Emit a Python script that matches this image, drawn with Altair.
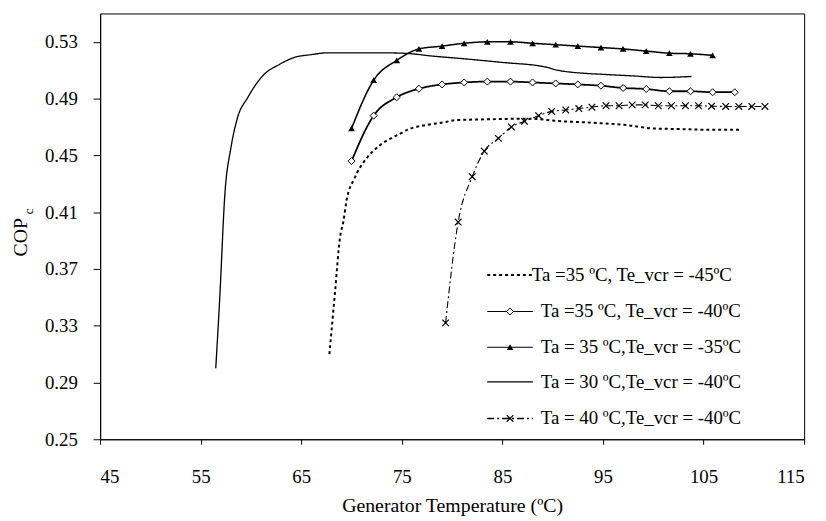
import altair as alt
import pandas as pd

FONT = "Liberation Serif"

L1 = "Ta =35 ºC, Te_vcr = -45ºC"
L2 = "Ta =35 ºC, Te_vcr = -40ºC"
L3 = "Ta = 35 ºC,Te_vcr = -35ºC"
L4 = "Ta = 30 ºC,Te_vcr = -40ºC"
L5 = "Ta = 40 ºC,Te_vcr = -40ºC"
labels = [L1, L2, L3, L4, L5]

# Ta=35, Te_vcr=-45 (dotted, no markers)
x1 = [67.8, 68.35, 68.85, 69.2, 69.5, 70.3, 71.5, 72.8, 74.75, 75.9, 77.1, 79.4, 80.3,
      84.0, 87.5, 90.8, 94.0, 97.4, 100.0, 103.0, 105.6, 108.8]
y1 = [0.310, 0.353, 0.392, 0.404, 0.418, 0.434, 0.448, 0.457, 0.465, 0.469, 0.471, 0.4736,
      0.4748, 0.4755, 0.4759, 0.4741, 0.4730, 0.4713, 0.4690, 0.4685, 0.4680, 0.4680]

# Ta=35, Te_vcr=-40 (diamonds)
x2 = [70.0, 72.2, 74.5, 76.7, 79.0, 81.2, 83.5, 85.8, 88.0, 90.3, 92.5, 94.8, 97.0, 99.3,
      101.6, 103.7, 105.9, 108.1]
y2 = [0.446, 0.478, 0.491, 0.497, 0.500, 0.5014, 0.502, 0.502, 0.5014, 0.5007, 0.500, 0.4991,
      0.4975, 0.4968, 0.4952, 0.4952, 0.4945, 0.4945]

# Ta=35, Te_vcr=-35 (triangles)
x3 = [70.0, 72.2, 74.5, 76.7, 79.0, 81.2, 83.5, 85.8, 88.0, 90.3, 92.5, 94.8, 97.0, 99.3,
      101.6, 103.7, 105.9]
y3 = [0.469, 0.503, 0.517, 0.525, 0.527, 0.529, 0.530, 0.530, 0.529, 0.528, 0.527, 0.526,
      0.525, 0.5235, 0.522, 0.5216, 0.5205]

# Ta=30, Te_vcr=-40 (solid, no markers)
x4 = [56.5, 56.9, 57.4, 58.0, 58.6, 59.7, 61.3, 62.8, 64.3, 66.0, 67.7, 70.0, 72.8, 75.4,
      78.0, 81.0, 85.0, 89.2, 90.8, 95.8, 98.0, 100.7, 103.8]
y4 = [0.300, 0.350, 0.422, 0.455, 0.475, 0.491, 0.507, 0.514, 0.519, 0.521, 0.5223, 0.5223,
      0.5223, 0.5219, 0.520, 0.5182, 0.5155, 0.5124, 0.5096, 0.5068, 0.506, 0.5049, 0.5056]

# Ta=40, Te_vcr=-40 (dash-dot, x markers)
x5 = [79.35, 80.6, 82.0, 83.2, 84.6, 85.9, 87.2, 88.6, 89.9, 91.3, 92.6, 93.9, 95.3, 96.6,
      97.9, 99.2, 100.5, 101.8, 103.2, 104.5, 105.8, 107.2, 108.5, 109.8, 111.1]
y5 = [0.332, 0.403, 0.435, 0.453, 0.462, 0.470, 0.474, 0.478, 0.481, 0.482, 0.483, 0.484,
      0.485, 0.485, 0.4856, 0.4856, 0.485, 0.485, 0.485, 0.485, 0.4847, 0.4845, 0.4845,
      0.4845, 0.4845]

x_ticks = [45, 55, 65, 75, 85, 95, 105, 115]
y_ticks = [0.25, 0.29, 0.33, 0.37, 0.41, 0.45, 0.49, 0.53]

rows = []
for lab, xs, ys in [(L1, x1, y1), (L2, x2, y2), (L3, x3, y3), (L4, x4, y4), (L5, x5, y5)]:
    for i, (a, b) in enumerate(zip(xs, ys)):
        rows.append({"series": lab, "x": a, "y": b, "i": i})
df = pd.DataFrame(rows)

dashes = [[3, 3], [1, 0], [1, 0], [1, 0], [7, 3, 2, 3]]
widths = [2.0, 1.1, 1.1, 1.1, 1.5]
dash_scale = alt.Scale(domain=labels, range=dashes)
width_scale = alt.Scale(domain=labels, range=widths)

xenc = alt.X("x:Q", scale=alt.Scale(domain=[45, 115], nice=False),
             axis=alt.Axis(values=x_ticks, tickSize=5, labelPadding=24,
                           title="Generator Temperature (ºC)", titlePadding=9))
yenc = alt.Y("y:Q", scale=alt.Scale(domain=[0.25, 0.55], nice=False),
             axis=alt.Axis(values=y_ticks, format=".2f", tickSize=7, labelPadding=16, title=None))

base = alt.Chart(df)
lines = base.mark_line(interpolate="monotone", color="black").encode(
    x=xenc, y=yenc,
    strokeDash=alt.StrokeDash("series:N", scale=dash_scale, legend=None),
    strokeWidth=alt.StrokeWidth("series:N", scale=width_scale, legend=None),
    detail="series:N", order="i:Q")

XPATH = "M-1,-1L1,1M-1,1L1,-1"
diam = base.transform_filter(alt.datum.series == L2).mark_point(
    shape="diamond", filled=True, fill="white", stroke="black", strokeWidth=1, size=50, opacity=1
).encode(x="x:Q", y="y:Q")
tri = base.transform_filter(alt.datum.series == L3).mark_point(
    shape="triangle-up", filled=True, color="black", size=45, opacity=1
).encode(x="x:Q", y="y:Q")
xs_ = base.transform_filter(alt.datum.series == L5).mark_point(
    shape=XPATH, filled=False, stroke="black", strokeWidth=1.2, size=45, opacity=1
).encode(x="x:Q", y="y:Q")

layers = [lines, diam, tri, xs_]

# legend (drawn inside the plot, bottom right)
leg_y = [264, 301, 337, 372, 409]
leg_tx = [436, 445, 445, 445, 445]
one = pd.DataFrame({"k": [0]})
for k, lab in enumerate(labels):
    layers.append(alt.Chart(one).mark_rule(color="black", strokeWidth=widths[k],
                                           strokeDash=dashes[k]).encode(
        x=alt.value(391), x2=alt.value(437), y=alt.value(leg_y[k])))
    layers.append(alt.Chart(one).mark_text(align="left", baseline="middle", font=FONT,
                                           fontSize=19, color="black").encode(
        x=alt.value(leg_tx[k]), y=alt.value(leg_y[k]), text=alt.value(lab)))
layers.append(alt.Chart(one).mark_point(shape="diamond", filled=True, fill="white",
                                        stroke="black", strokeWidth=1, size=50, opacity=1).encode(
    x=alt.value(414), y=alt.value(leg_y[1])))
layers.append(alt.Chart(one).mark_point(shape="triangle-up", filled=True, color="black",
                                        size=45, opacity=1).encode(
    x=alt.value(414), y=alt.value(leg_y[2])))
layers.append(alt.Chart(one).mark_point(shape=XPATH, filled=False, stroke="black",
                                        strokeWidth=1.2, size=45, opacity=1).encode(
    x=alt.value(414), y=alt.value(leg_y[4])))

# y-axis title COP with subscript c
layers.append(alt.Chart(one).mark_text(angle=270, align="center", baseline="middle",
                                       font=FONT, fontSize=20, color="black").encode(
    x=alt.value(-80), y=alt.value(226), text=alt.value("COP")))
layers.append(alt.Chart(one).mark_text(angle=270, align="center", baseline="middle",
                                       font=FONT, fontSize=13, color="black").encode(
    x=alt.value(-72), y=alt.value(200), text=alt.value("c")))

chart = alt.layer(*layers).properties(
    width=711, height=430,
    autosize=alt.AutoSizeParams(type="none"),
    padding={"left": 93, "top": 3, "right": 14, "bottom": 78},
).configure_view(stroke="black", strokeWidth=1).configure_axis(
    grid=False, domainColor="black", domainWidth=1.2, tickColor="black", tickWidth=1,
    labelColor="black", labelFont=FONT, labelFontSize=19,
    titleColor="black", titleFont=FONT, titleFontSize=20, titleFontWeight="normal",
)

chart.save("out.html", embed_options={"renderer": "svg", "actions": False})
